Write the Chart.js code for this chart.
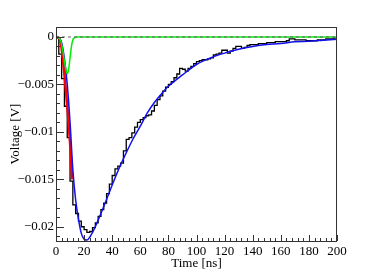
<!DOCTYPE html>
<html>
<head>
<meta charset="utf-8">
<script src="https://cdn.jsdelivr.net/npm/chart.js@4.4.1/dist/chart.umd.min.js"></script>
<style>
  html, body { margin: 0; padding: 0; background: #fff; }
</style>
</head>
<body>
<canvas id="c" width="374" height="270"></canvas>
<script>
// measured pulse, histogram bins of 2 ns (left edges)
const histTime = [0, 2, 4, 6, 8, 10, 12, 14, 16, 18, 20, 22, 24, 26, 28, 30, 32, 34, 36, 38,
  40, 42, 44, 46, 48, 50, 52, 54, 56, 58, 60, 62, 64, 66, 68, 70, 72, 74, 76, 78,
  80, 82, 84, 86, 88, 90, 92, 94, 96, 98, 100, 102, 104, 106, 108, 110, 112, 114, 116, 118,
  120, 122, 124, 126, 128, 130, 132, 134, 136, 138, 140, 142, 144, 146, 148, 150, 152, 154, 156, 158,
  160, 162, 164, 166, 168, 170, 172, 174, 176, 178, 180, 182, 184, 186, 188, 190, 192, 194, 196, 198, 200];
const histVolt = [0, -0.0001, -0.0018, -0.0044, -0.0073, -0.0106, -0.0152, -0.0177, -0.0186, -0.0194,
  -0.0200, -0.0203, -0.0206, -0.0205, -0.0201, -0.0196, -0.0189, -0.0182, -0.0175, -0.0165,
  -0.0155, -0.0146, -0.0139, -0.0136, -0.0133, -0.0120, -0.0108, -0.0106, -0.0101, -0.0095,
  -0.0090, -0.0087, -0.0085, -0.0083, -0.0082, -0.0078, -0.0072, -0.0066, -0.0062, -0.0057,
  -0.0053, -0.0050, -0.0047, -0.0043, -0.0039, -0.0033, -0.0034, -0.0036, -0.0033, -0.0031,
  -0.0028, -0.0026, -0.0025, -0.0024, -0.0024, -0.0023, -0.0022, -0.0019, -0.0018, -0.0017,
  -0.0014, -0.0014, -0.0017, -0.0015, -0.0012, -0.0010, -0.0010, -0.0012, -0.0011, -0.0009,
  -0.0008, -0.0008, -0.0008, -0.0007, -0.0007, -0.0007, -0.0006, -0.0006, -0.0006, -0.0005,
  -0.0005, -0.0005, -0.0005, -0.0004, -0.0002, -0.0002, -0.0003, -0.0003, -0.0003, -0.0003,
  -0.0004, -0.0004, -0.0004, -0.0004, -0.0003, -0.0003, -0.0003, -0.0002, -0.0002, -0.0002, -0.0001];

// full pulse fit (blue)
const fitTime = [0, 2, 4, 6, 8, 10, 12, 14, 16, 18, 20, 22, 24, 26, 28, 30, 35, 40, 45, 50,
  55, 60, 65, 70, 75, 80, 90, 100, 110, 120, 130, 140, 150, 160, 170, 180, 190, 200];
const fitVolt = [0, -0.0001, -0.0006, -0.0023, -0.0050, -0.0090, -0.0140, -0.0172, -0.0192, -0.0207,
  -0.0213, -0.0214, -0.0211, -0.0206, -0.0200, -0.0193, -0.0175, -0.0156, -0.0138, -0.0122,
  -0.0107, -0.0094, -0.0080, -0.0069, -0.0060, -0.0052, -0.0040, -0.0029, -0.0022, -0.0017,
  -0.0013, -0.0010, -0.0008, -0.0007, -0.0005, -0.00045, -0.00035, -0.00025];

// leading edge fit (red)
const edgeTime = [0, 2, 3, 4, 5, 6, 7, 8, 9, 10, 11, 11.5];
const edgeVolt = [0, -0.0001, -0.0004, -0.0012, -0.0025, -0.0040, -0.0056, -0.0073, -0.0091, -0.0112, -0.0138, -0.0150];

// trigger component (green)
const trigTime = [0, 2, 3, 4, 5, 6, 7, 8, 9, 10, 11, 12, 13, 14, 200];
const trigVolt = [0, -0.0001, -0.0003, -0.0008, -0.0016, -0.0026, -0.0034, -0.0039, -0.0034, -0.0022, -0.0010, -0.0003, -0.0001, 0, 0];

const baseTime = [0, 200];
const baseVolt = [0, 0];

const xTicks = [0, 20, 40, 60, 80, 100, 120, 140, 160, 180, 200];
const xTickLabels = ['0', '20', '40', '60', '80', '100', '120', '140', '160', '180', '200'];
const yTicks = [-0.02, -0.015, -0.01, -0.005, 0];
const yTickLabels = ['\u22120.02', '\u22120.015', '\u22120.01', '\u22120.005', '0'];

const pts = (ts, vs) => ts.map((t, i) => ({ x: t, y: vs[i] }));
const FONT = { family: "'Liberation Serif', 'DejaVu Serif', serif", size: 13 };

// ROOT-like frame with inward ticks
const rootFrame = {
  id: 'rootFrame',
  afterDatasetsDraw(chart) {
    const { ctx, chartArea: a, scales: { x, y } } = chart;
    ctx.save();
    ctx.strokeStyle = '#333';
    ctx.lineWidth = 1;
    ctx.beginPath();
    for (let v = 0; v <= 200.001; v += 4) {
      const px = Math.round(x.getPixelForValue(v)) + 0.5;
      const len = (Math.round(v) % 20 === 0) ? 6 : 3;
      ctx.moveTo(px, a.bottom);
      ctx.lineTo(px, a.bottom - len);
    }
    for (let k = -21; k <= 1; k++) {
      const v = k * 0.001;
      const py = Math.round(y.getPixelForValue(v)) + 0.5;
      if (py < a.top || py > a.bottom) continue;
      const len = (k % 5 === 0) ? 8 : 4;
      ctx.moveTo(a.left, py);
      ctx.lineTo(a.left + len, py);
    }
    ctx.stroke();
    ctx.strokeRect(a.left + 0.5, a.top + 0.5, a.right - a.left - 1, a.bottom - a.top);
    ctx.restore();
  }
};

new Chart(document.getElementById('c'), {
  type: 'line',
  data: {
    datasets: [
      { data: pts(baseTime, baseVolt), borderColor: '#666', borderWidth: 1, borderDash: [3, 3], pointRadius: 0 },
      { data: pts(trigTime, trigVolt), borderColor: '#00ee00', borderWidth: 1.5, pointRadius: 0, cubicInterpolationMode: 'monotone' },
      { data: pts(fitTime, fitVolt), borderColor: '#1010f0', borderWidth: 1.5, pointRadius: 0, cubicInterpolationMode: 'monotone' },
      { data: pts(edgeTime, edgeVolt), borderColor: '#ff0000', borderWidth: 2.5, pointRadius: 0, cubicInterpolationMode: 'monotone' },
      { data: pts(histTime, histVolt), borderColor: '#000', borderWidth: 1.3, pointRadius: 0, stepped: 'after' }
    ]
  },
  options: {
    responsive: false,
    animation: false,
    layout: { padding: { top: 27, right: 37, left: 0, bottom: 0 } },
    plugins: { legend: { display: false }, tooltip: { enabled: false } },
    scales: {
      x: {
        type: 'linear', min: 0, max: 200,
        grid: { display: false, drawTicks: false }, border: { display: false },
        afterBuildTicks: (s) => { s.ticks = xTicks.map(v => ({ value: v })); },
        afterFit: (s) => { s.height = 29; },
        ticks: { font: FONT, color: '#000', padding: 3, maxRotation: 0, autoSkip: false,
          callback: (v, i) => xTickLabels[i] },
        title: { display: true, text: 'Time [ns]', color: '#000',
          font: Object.assign({ lineHeight: 1 }, FONT), padding: { top: 0, bottom: 0 } }
      },
      y: {
        type: 'linear', min: -0.0215, max: 0.00105,
        grid: { display: false, drawTicks: false }, border: { display: false },
        afterBuildTicks: (s) => { s.ticks = yTicks.map(v => ({ value: v })); },
        afterFit: (s) => { s.width = 56; },
        ticks: { font: FONT, color: '#000', padding: 2, autoSkip: false,
          callback: (v, i) => yTickLabels[i] },
        title: { display: true, text: 'Voltage [V]', color: '#000',
          font: Object.assign({ lineHeight: 1 }, FONT), padding: { top: 9, bottom: 0 } }
      }
    }
  },
  plugins: [rootFrame]
});
</script>
</body>
</html>
